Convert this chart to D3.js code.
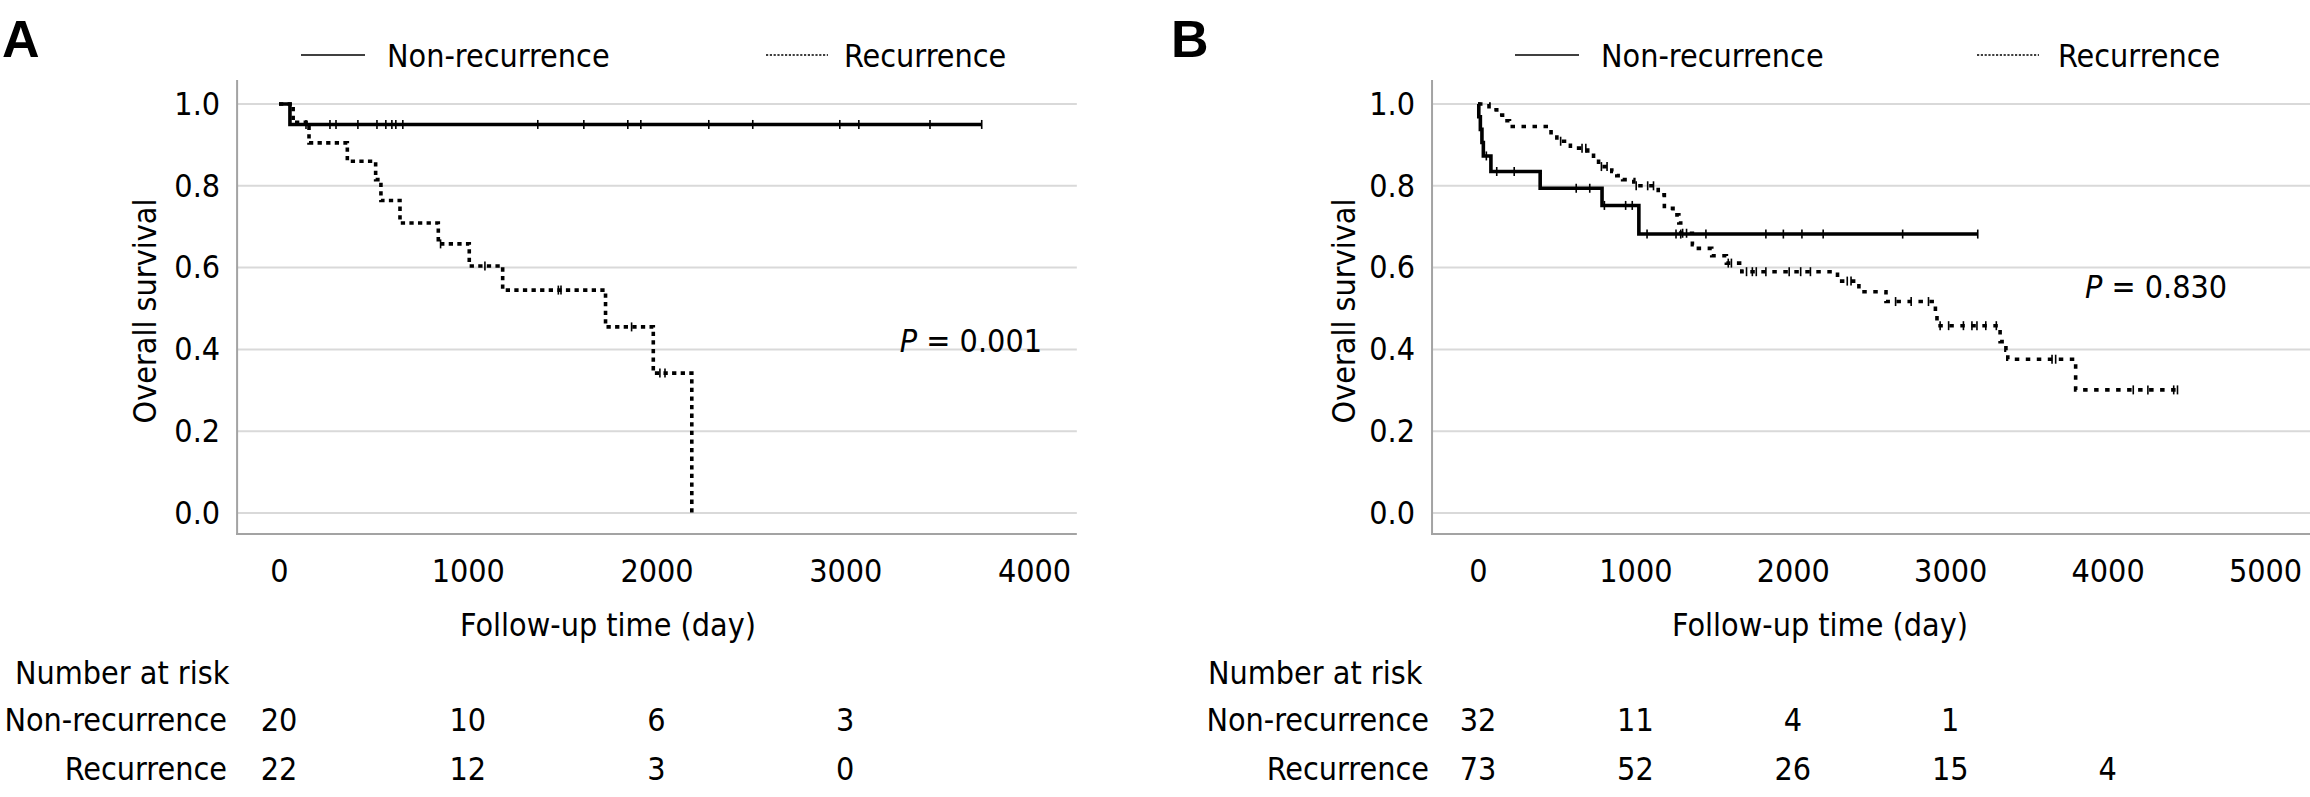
<!DOCTYPE html>
<html>
<head>
<meta charset="utf-8">
<script src="https://cdn.jsdelivr.net/npm/d3@7"></script>
<style>
  body { margin: 0; background: #fff; }
  svg { display: block; }
  text { font-family: "DejaVu Sans Condensed", "DejaVu Sans", sans-serif; font-stretch: condensed; fill: #000; }
</style>
</head>
<body>
<svg id="chart" width="2310" height="797"></svg>
<script>
// shared
var survTicks = [0, 0.2, 0.4, 0.6, 0.8, 1.0];
var groups = ["Non-recurrence", "Recurrence"];

// panel A - step times (day) and survival after each step
var aDayTicks = [0, 1000, 2000, 3000, 4000];
var aNonStepT = [58];
var aNonStepS = [0.95];
var aNonEnd = 3723;
var aNonCensor = [143, 270, 302, 418, 519, 566, 598, 619, 656, 1371, 1615, 1848, 1917, 2277, 2510, 2971, 3072, 3449, 3723];
var aRecStepT = [75, 159, 362, 512, 540, 641, 844, 1008, 1185, 1730, 1983, 2187];
var aRecStepS = [0.955, 0.905, 0.860, 0.815, 0.764, 0.709, 0.658, 0.604, 0.545, 0.455, 0.342, 0];
var aRecEnd = 2187;
var aRecCensor = [856, 1091, 1480, 1494, 1868, 2018, 2045];
var aRiskDays = [0, 1000, 2000, 3000];
var aRiskNon = [20, 10, 6, 3];
var aRiskRec = [22, 12, 3, 0];
var aP = "0.001";

// panel B
var bDayTicks = [0, 1000, 2000, 3000, 4000, 5000];
var bNonStepT = [5, 15, 25, 34, 82, 395, 788, 1022];
var bNonStepS = [0.969, 0.938, 0.906, 0.873, 0.835, 0.794, 0.752, 0.682];
var bNonEnd = 3175;
var bNonCensor = [53, 119, 230, 624, 710, 803, 938, 980, 1074, 1258, 1288, 1448, 1829, 1940, 2058, 2193, 2698, 3175];
var bRecStepT = [70, 119, 156, 200, 464, 501, 587, 697, 734, 766, 850, 882, 919, 990, 1145, 1184, 1239, 1276, 1288,
                 1362, 1386, 1485, 1578, 1676, 2284, 2420, 2592, 2906, 2916, 3317, 3354, 3366, 3797];
var bRecStepS = [0.986, 0.973, 0.959, 0.945, 0.930, 0.909, 0.892, 0.880, 0.866, 0.847, 0.835, 0.825, 0.815, 0.800, 0.778, 0.745, 0.729, 0.709, 0.684,
                 0.656, 0.647, 0.629, 0.611, 0.590, 0.567, 0.541, 0.517, 0.484, 0.458, 0.419, 0.398, 0.376, 0.301];
var bRecEnd = 4444;
var bRecCensor = [525, 661, 685, 784, 820, 1005, 1078, 1115, 1300, 1325, 1590, 1610, 1706, 1743, 1768, 1829, 1977, 2050, 2112,
                  2346, 2370, 2653, 2752, 2862, 2936, 2990, 3084, 3138, 3170, 3226, 3293, 3647, 3670, 4163, 4256, 4420, 4444];
var bRiskDays = [0, 1000, 2000, 3000, 4000];
var bRiskNon = [32, 11, 4, 1];
var bRiskRec = [73, 52, 26, 15, 4];
var bP = "0.830";

var svg = d3.select("#chart");
var FS = 32;

function drawPanel(p) {
  var g = svg.append("g");
  var x = d3.scaleLinear().domain([0, p.dayTicks[p.dayTicks.length - 1]]).range(p.xRange);
  var y = d3.scaleLinear().domain([0, 1]).range([513, 104]);
  var axisX = x(p.dayMin), rightX = x(p.dayMax);

  // panel letter
  g.append("text").attr("x", p.letterX).attr("y", 57)
    .style("font-family", "'Liberation Sans Narrow', 'Liberation Sans', sans-serif")
    .style("font-stretch", "normal")
    .attr("font-weight", "bold").attr("font-size", 52).text(p.letter);

  // grid
  g.append("g").selectAll("line").data(survTicks).enter().append("line")
    .attr("x1", axisX).attr("x2", rightX)
    .attr("y1", function(d) { return y(d); }).attr("y2", function(d) { return y(d); })
    .attr("stroke", "#d9d9d9").attr("stroke-width", 2);

  // axis lines
  g.append("line").attr("x1", axisX).attr("x2", axisX).attr("y1", 80).attr("y2", 535)
    .attr("stroke", "#a3a3a3").attr("stroke-width", 2);
  g.append("line").attr("x1", axisX - 1).attr("x2", rightX).attr("y1", 534).attr("y2", 534)
    .attr("stroke", "#a3a3a3").attr("stroke-width", 2);

  // y tick labels
  var ya = g.append("g").attr("transform", "translate(" + axisX + ",0)")
    .call(d3.axisLeft(y).tickValues(survTicks).tickSize(0).tickPadding(17).tickFormat(d3.format(".1f")));
  ya.select(".domain").remove();
  ya.attr("font-size", FS).attr("font-family", null);

  // x tick labels
  var xa = g.append("g").attr("transform", "translate(0,534)")
    .call(d3.axisBottom(x).tickValues(p.dayTicks).tickSize(0).tickPadding(25).tickFormat(d3.format("d")));
  xa.select(".domain").remove();
  xa.attr("font-size", FS).attr("font-family", null);

  // axis titles
  g.append("text").attr("transform", "translate(" + p.yTitleX + ",311) rotate(-90)")
    .attr("text-anchor", "middle").attr("font-size", FS).text("Overall survival");
  g.append("text").attr("x", p.xTitleX).attr("y", 636)
    .attr("text-anchor", "middle").attr("font-size", FS).text("Follow-up time (day)");

  // legend
  var leg = g.append("g");
  leg.append("line").attr("x1", p.legX[0]).attr("x2", p.legX[0] + 64).attr("y1", 55).attr("y2", 55)
    .attr("stroke", "#000").attr("stroke-width", 1.5);
  leg.append("text").attr("x", p.legX[1]).attr("y", 67).attr("font-size", FS).text(groups[0]);
  leg.append("line").attr("x1", p.legX[2]).attr("x2", p.legX[2] + 62).attr("y1", 55).attr("y2", 55)
    .attr("stroke", "#000").attr("stroke-width", 1.3).attr("stroke-dasharray", "2.2,1.6");
  leg.append("text").attr("x", p.legX[3]).attr("y", 67).attr("font-size", FS).text(groups[1]);

  // curves
  var line = d3.line().curve(d3.curveStepAfter)
    .x(function(d) { return x(d[0]); }).y(function(d) { return y(d[1]); });

  function curve(T, S, end, censor, dash) {
    var pts = [[0, 1]];
    T.forEach(function(t, i) { pts.push([t, S[i]]); });
    pts.push([end, S[S.length - 1]]);
    g.append("path").datum(pts).attr("d", line)
      .attr("fill", "none").attr("stroke", "#000").attr("stroke-width", 3.6)
      .attr("stroke-dasharray", dash);
    function surv(t) {
      var i = d3.bisectRight(T, t);
      return i === 0 ? 1 : S[i - 1];
    }
    g.append("g").selectAll("line").data(censor).enter().append("line")
      .attr("x1", function(d) { return x(d); }).attr("x2", function(d) { return x(d); })
      .attr("y1", function(d) { return y(surv(d)) - 4.5; })
      .attr("y2", function(d) { return y(surv(d)) + 4.5; })
      .attr("stroke", "#000").attr("stroke-width", 1.6);
  }
  curve(p.recT, p.recS, p.recEnd, p.recCensor, p.dash);
  curve(p.nonT, p.nonS, p.nonEnd, p.nonCensor, null);

  // P value
  var pt = g.append("text").attr("x", p.pX).attr("y", p.pY).attr("font-size", FS)
    .attr("text-anchor", p.pAnchor);
  pt.append("tspan").attr("font-style", "italic").text("P");
  pt.append("tspan").text(" = " + p.pVal);

  // number at risk
  g.append("text").attr("x", p.riskX).attr("y", 684).attr("font-size", FS).text("Number at risk");
  var rows = [[groups[0], p.riskNon, 731], [groups[1], p.riskRec, 780]];
  rows.forEach(function(r) {
    g.append("text").attr("x", p.rowLabelX).attr("y", r[2]).attr("text-anchor", "end")
      .attr("font-size", FS).text(r[0]);
    g.append("g").selectAll("text").data(r[1]).enter().append("text")
      .attr("x", function(d, i) { return x(p.riskDays[i]); }).attr("y", r[2])
      .attr("text-anchor", "middle").attr("font-size", FS).text(function(d) { return d; });
  });
}

drawPanel({
  letter: "A", letterX: 2,
  dayTicks: aDayTicks, xRange: [279, 1034], dayMin: -222, dayMax: 4227,
  yTitleX: 156, xTitleX: 608,
  legX: [301, 387, 766, 844],
  nonT: aNonStepT, nonS: aNonStepS, nonEnd: aNonEnd, nonCensor: aNonCensor,
  recT: aRecStepT, recS: aRecStepS, recEnd: aRecEnd, recCensor: aRecCensor,
  dash: "4.3,4.3",
  pX: 1042, pY: 352, pAnchor: "end", pVal: aP,
  riskX: 15, rowLabelX: 227,
  riskDays: aRiskDays, riskNon: aRiskNon, riskRec: aRiskRec
});

drawPanel({
  letter: "B", letterX: 1171,
  dayTicks: bDayTicks, xRange: [1478, 2265], dayMin: -292, dayMax: 5300,
  yTitleX: 1355, xTitleX: 1820,
  legX: [1515, 1601, 1977, 2058],
  nonT: bNonStepT, nonS: bNonStepS, nonEnd: bNonEnd, nonCensor: bNonCensor,
  recT: bRecStepT, recS: bRecStepS, recEnd: bRecEnd, recCensor: bRecCensor,
  dash: "4.5,6.5",
  pX: 2085, pY: 298, pAnchor: "start", pVal: bP,
  riskX: 1208, rowLabelX: 1429,
  riskDays: bRiskDays, riskNon: bRiskNon, riskRec: bRiskRec
});
</script>
</body>
</html>
